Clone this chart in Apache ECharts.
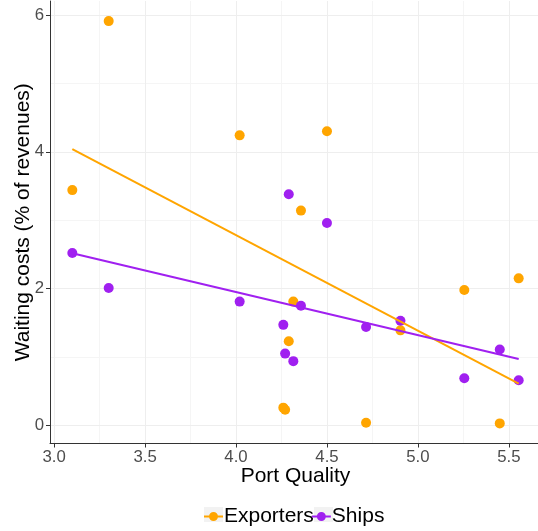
<!DOCTYPE html>
<html>
<head>
<meta charset="utf-8">
<script src="https://cdn.jsdelivr.net/npm/echarts@6/dist/echarts.min.js"></script>
<style>
html,body{margin:0;padding:0;background:#fff;}
#chart{width:538px;height:531px;}
</style>
</head>
<body>
<div id="chart"></div>
<script>
// ---- data ----
const portQuality = [3.10, 3.30, 4.02, 4.26, 4.27, 4.29, 4.315, 4.357, 4.50, 4.715, 4.904, 5.255, 5.45, 5.554];
const exporters   = [3.44, 5.91, 4.24, 0.26, 0.23, 1.23, 1.81, 3.14, 4.30, 0.04, 1.39, 1.98, 0.03, 2.15];
const ships       = [2.52, 2.01, 1.81, 1.47, 1.05, 3.38, 0.94, 1.75, 2.96, 1.44, 1.53, 0.69, 1.11, 0.66];
const seriesNames = ['Exporters', 'Ships'];
const xTicks = [3.0, 3.5, 4.0, 4.5, 5.0, 5.5];
const xTickLabels = ['3.0', '3.5', '4.0', '4.5', '5.0', '5.5'];
const xMinor = [3.25, 3.75, 4.25, 4.75, 5.25];
const yTicks = [0, 2, 4, 6];
const yTickLabels = ['0', '2', '4', '6'];
const yMinor = [1, 3, 5];

const colors = ['#FFA500', '#A020F0'];

function pairs(xs, ys) { return xs.map((x, i) => [x, ys[i]]); }
function lmLine(xs, ys) {
  const n = xs.length;
  const mx = xs.reduce((a, b) => a + b, 0) / n;
  const my = ys.reduce((a, b) => a + b, 0) / n;
  let sxy = 0, sxx = 0;
  for (let i = 0; i < n; i++) { sxy += (xs[i] - mx) * (ys[i] - my); sxx += (xs[i] - mx) ** 2; }
  const b = sxy / sxx, a = my - b * mx;
  const x0 = Math.min(...xs), x1 = Math.max(...xs);
  return [[x0, a + b * x0], [x1, a + b * x1]];
}
function expand(vals) {
  const lo = Math.min(...vals), hi = Math.max(...vals), d = (hi - lo) * 0.05;
  return [lo - d, hi + d];
}
const xr = expand(portQuality);
const yr = expand(exporters.concat(ships));

const icon = 'path://M0,3.5 H19 V5.5 H0 Z M5,4.5 A4.5,4.5 0 1,1 14,4.5 A4.5,4.5 0 1,1 5,4.5 Z';

const chart = echarts.init(document.getElementById('chart'), null, {renderer: 'canvas'});
const fontFamily = '"Liberation Sans", Arial, sans-serif';

function labelFor(ticks, labels) {
  return v => { const i = ticks.findIndex(t => Math.abs(t - v) < 1e-6); return i >= 0 ? labels[i] : ''; };
}

chart.setOption({
  animation: false,
  backgroundColor: '#ffffff',
  textStyle: {fontFamily: fontFamily},
  grid: {left: 50, top: 1, width: 491, height: 442.5, containLabel: false, outerBoundsMode: 'none'},
  graphic: [
    {type: 'rect', z: 0, shape: {x: 204, y: 507, width: 19, height: 15}, style: {fill: '#f2f2f2'}},
    {type: 'rect', z: 0, shape: {x: 314, y: 507, width: 19, height: 15}, style: {fill: '#f2f2f2'}}
  ],
  legend: {
    data: seriesNames.map(n => ({name: n, icon: icon})),
    left: 204, top: 506, padding: 0,
    itemWidth: 19, itemHeight: 9, itemGap: -2,
    textStyle: {fontSize: 21, color: '#000', fontFamily: fontFamily, padding: [0, 0, 0, -4]}
  },
  xAxis: {
    type: 'value', min: xr[0], max: xr[1],
    minInterval: 0.5, maxInterval: 0.5,
    name: 'Port Quality', nameLocation: 'middle', nameGap: 22, nameMoveOverlap: false,
    nameTextStyle: {fontSize: 21, color: '#000', fontFamily: fontFamily},
    axisLine: {show: true, onZero: false, lineStyle: {color: '#333', width: 1}},
    axisTick: {show: true, length: 4, customValues: xTicks, lineStyle: {color: '#333'}},
    axisLabel: {show: true, margin: 5, fontSize: 16.8, color: '#4d4d4d', fontFamily: fontFamily,
      customValues: xTicks, formatter: labelFor(xTicks, xTickLabels)},
    splitLine: {show: false}
  },
  yAxis: {
    type: 'value', min: yr[0], max: yr[1],
    minInterval: 2, maxInterval: 2,
    name: 'Waiting costs (% of revenues)', nameLocation: 'middle', nameGap: 16, nameMoveOverlap: false,
    nameTextStyle: {fontSize: 21, color: '#000', fontFamily: fontFamily},
    axisLine: {show: true, onZero: false, lineStyle: {color: '#333', width: 1}},
    axisTick: {show: true, length: 4, customValues: yTicks, lineStyle: {color: '#333'}},
    axisLabel: {show: true, margin: 6, fontSize: 16.8, color: '#4d4d4d', fontFamily: fontFamily,
      customValues: yTicks, formatter: labelFor(yTicks, yTickLabels)},
    splitLine: {show: false}
  },
  series: [
    {
      type: 'line', name: '_gridMinor', data: [], z: 1, silent: true,
      markLine: {silent: true, z: 0, symbol: 'none', label: {show: false}, animation: false,
        lineStyle: {color: '#f5f5f5', width: 1, type: 'solid'},
        data: xMinor.map(v => ({xAxis: v})).concat(yMinor.map(v => ({yAxis: v})))}
    },
    {
      type: 'line', name: '_gridMajor', data: [], z: 1, silent: true,
      markLine: {silent: true, z: 0, symbol: 'none', label: {show: false}, animation: false,
        lineStyle: {color: '#eeeeee', width: 1, type: 'solid'},
        data: xTicks.map(v => ({xAxis: v})).concat(yTicks.map(v => ({yAxis: v})))}
    },
    {type: 'scatter', name: seriesNames[0], data: pairs(portQuality, exporters), symbolSize: 10,
      itemStyle: {color: colors[0], opacity: 1}, z: 2},
    {type: 'scatter', name: seriesNames[1], data: pairs(portQuality, ships), symbolSize: 10,
      itemStyle: {color: colors[1], opacity: 1}, z: 2},
    {type: 'line', name: seriesNames[0], data: lmLine(portQuality, exporters), showSymbol: false,
      symbol: 'none', lineStyle: {color: colors[0], width: 2}, itemStyle: {color: colors[0]}, z: 3},
    {type: 'line', name: seriesNames[1], data: lmLine(portQuality, ships), showSymbol: false,
      symbol: 'none', lineStyle: {color: colors[1], width: 2}, itemStyle: {color: colors[1]}, z: 3}
  ]
});
</script>
</body>
</html>
